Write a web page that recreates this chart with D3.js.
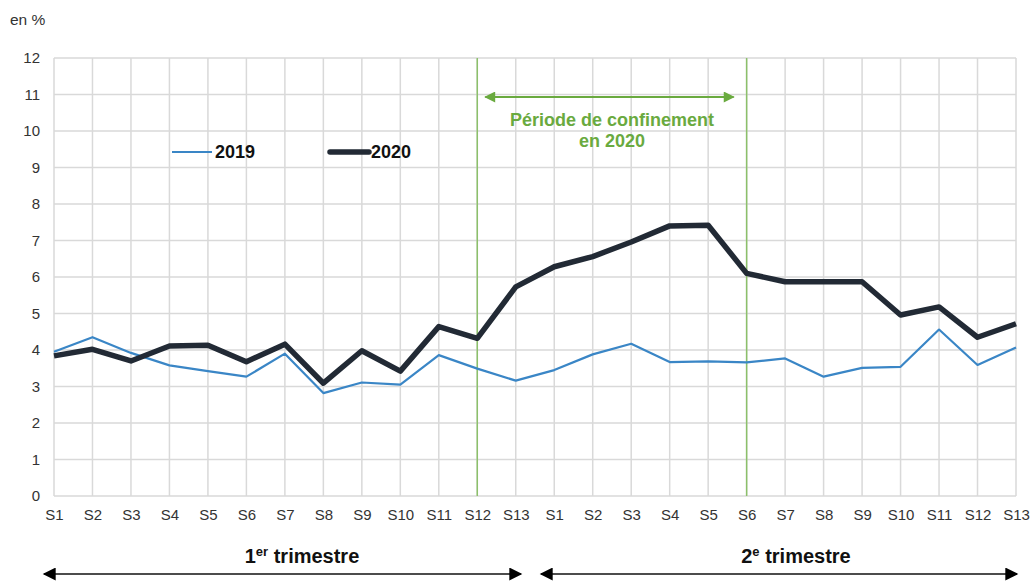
<!DOCTYPE html>
<html><head><meta charset="utf-8">
<script src="https://cdn.jsdelivr.net/npm/d3@7"></script>
<style>body{margin:0;background:#fff;font-family:Arial,"Liberation Sans",sans-serif}</style>
</head><body><svg id="c" width="1030" height="583"></svg>
<script>
const categories = ["S1","S2","S3","S4","S5","S6","S7","S8","S9","S10","S11","S12","S13",
                    "S1","S2","S3","S4","S5","S6","S7","S8","S9","S10","S11","S12","S13"];
const values2019 = [3.95,4.35,3.92,3.58,3.42,3.27,3.9,2.82,3.11,3.05,3.86,3.49,3.16,
                    3.45,3.88,4.17,3.67,3.69,3.66,3.77,3.27,3.51,3.54,4.56,3.59,4.07];
const values2020 = [3.84,4.02,3.7,4.11,4.13,3.68,4.16,3.09,3.98,3.42,4.64,4.32,5.73,
                    6.28,6.56,6.96,7.4,7.42,6.1,5.87,5.87,5.87,4.96,5.18,4.35,4.72];
const yTicks = [0,1,2,3,4,5,6,7,8,9,10,11,12];
const quarters = ["1er trimestre","2e trimestre"];

const svg = d3.select("#c");
const L=54, R=1016, T=58, B=496;
const x = d3.scaleLinear().domain([0,categories.length-1]).range([L,R]);
const y = d3.scaleLinear().domain([0,12]).range([B,T]);
const grid="#d9d9d9";
const FF="Arial,'Liberation Sans',sans-serif";

svg.append("g").selectAll("line").data(yTicks).join("line")
  .attr("x1",L).attr("x2",R).attr("y1",d=>y(d)).attr("y2",d=>y(d))
  .attr("stroke",grid).attr("stroke-width",1.5);
svg.append("g").selectAll("line").data(d3.range(categories.length)).join("line")
  .attr("x1",d=>x(d)).attr("x2",d=>x(d)).attr("y1",T).attr("y2",B)
  .attr("stroke",grid).attr("stroke-width",1.5);

const yAxis = d3.axisLeft(y).tickValues(yTicks).tickSize(0).tickPadding(14);
const gy = svg.append("g").attr("transform",`translate(${L},0)`).call(yAxis);
gy.select(".domain").remove();
gy.selectAll("text").attr("font-size",15).attr("fill","#333").attr("font-family",FF);

const xAxis = d3.axisBottom(x).tickValues(d3.range(categories.length)).tickFormat(i=>categories[i]).tickSize(0).tickPadding(13);
const gx = svg.append("g").attr("transform",`translate(0,${B})`).call(xAxis);
gx.select(".domain").remove();
gx.selectAll("text").attr("font-size",15).attr("fill","#333").attr("font-family",FF);

svg.append("text").attr("x",10).attr("y",25).attr("font-size",15.5).attr("fill","#333").text("en %");

const green="#6aaa3f";
[11,18].forEach(i=>{
  svg.append("line").attr("x1",x(i)).attr("x2",x(i)).attr("y1",T).attr("y2",B)
    .attr("stroke","#8cc06a").attr("stroke-width",1.5);
});
const defs = svg.append("defs");
function marker(id,color,w,h){
  defs.append("marker").attr("id",id).attr("viewBox","0 0 10 10").attr("refX",9).attr("refY",5)
   .attr("markerWidth",w).attr("markerHeight",h).attr("markerUnits","userSpaceOnUse").attr("orient","auto-start-reverse")
   .append("path").attr("d","M0,0L10,5L0,10Z").attr("fill",color);
}
marker("ga",green,13,11);
marker("ka","#000",16,13);
svg.append("line").attr("x1",x(11)+8).attr("x2",x(18)-13).attr("y1",97).attr("y2",97)
  .attr("stroke",green).attr("stroke-width",2).attr("marker-start","url(#ga)").attr("marker-end","url(#ga)");
const cx=(x(11)+x(18))/2;
svg.append("text").attr("x",cx).attr("y",126).attr("text-anchor","middle").attr("font-size",18).attr("font-weight","bold").attr("fill",green).text("Période de confinement");
svg.append("text").attr("x",cx).attr("y",147).attr("text-anchor","middle").attr("font-size",18).attr("font-weight","bold").attr("fill",green).text("en 2020");

const line = d3.line().x((d,i)=>x(i)).y(d=>y(d));
svg.append("path").datum(values2019).attr("d",line).attr("fill","none").attr("stroke","#3a86c6").attr("stroke-width",2.2).attr("stroke-linejoin","round");
svg.append("path").datum(values2020).attr("d",line).attr("fill","none").attr("stroke","#222a35").attr("stroke-width",5.5).attr("stroke-linejoin","round");

svg.append("line").attr("x1",172).attr("x2",212).attr("y1",152).attr("y2",152).attr("stroke","#3a86c6").attr("stroke-width",2.2);
svg.append("text").attr("x",215).attr("y",158).attr("font-size",18).attr("font-weight","bold").attr("fill","#111").text("2019");
svg.append("line").attr("x1",330).attr("x2",369).attr("y1",152).attr("y2",152).attr("stroke","#222a35").attr("stroke-width",5.5).attr("stroke-linecap","round");
svg.append("text").attr("x",371).attr("y",158).attr("font-size",18).attr("font-weight","bold").attr("fill","#111").text("2020");

function quarter(label, sup, rest, cxq, x1, x2){
  const t = svg.append("text").attr("x",cxq).attr("y",563).attr("text-anchor","middle").attr("font-size",20).attr("font-weight","bold").attr("fill","#111");
  t.append("tspan").text(label);
  t.append("tspan").attr("font-size",13).attr("dy",-7).text(sup);
  t.append("tspan").attr("dy",7).text(" "+rest);
  svg.append("line").attr("x1",x1).attr("x2",x2).attr("y1",574).attr("y2",574)
    .attr("stroke","#111").attr("stroke-width",1.5).attr("marker-start","url(#ka)").attr("marker-end","url(#ka)");
}
quarter(quarters[0].slice(0,1), quarters[0].slice(1,3), quarters[0].split(" ")[1], 302, 44, 521);
quarter(quarters[1].slice(0,1), quarters[1].slice(1,2), quarters[1].split(" ")[1], 796, 541, 1017);
</script></body></html>
